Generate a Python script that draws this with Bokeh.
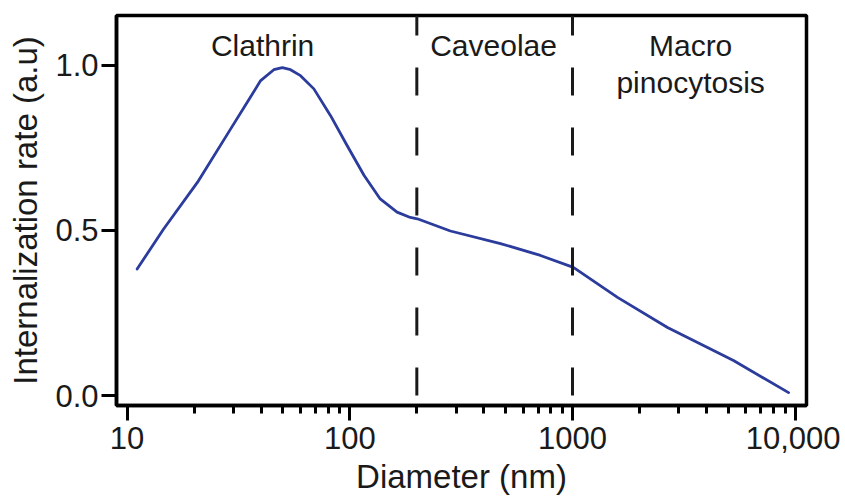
from bokeh.plotting import figure
from bokeh.models import Span, FixedTicker, Label, Range1d
from bokeh.embed import file_html
from bokeh.resources import INLINE

# ---- data ----
diameter_nm = [11.1, 14.6, 20.7, 29.2, 34.6, 39.8, 45.6, 49.8, 54.2, 60.1,
               69.0, 82.0, 97.4, 116, 137, 163, 187, 201, 283, 475,
               718, 1009, 1592, 2669, 5280, 9330]
internalization_rate = [0.383, 0.504, 0.645, 0.807, 0.887, 0.953, 0.986, 0.992, 0.986, 0.968,
                        0.928, 0.847, 0.756, 0.666, 0.595, 0.555, 0.539, 0.535, 0.498, 0.460,
                        0.424, 0.388, 0.297, 0.206, 0.106, 0.009]

x_major_ticks = [10, 100, 1000, 10000]
x_minor_ticks = [20, 30, 40, 50, 60, 70, 80, 90,
                 200, 300, 400, 500, 600, 700, 800, 900,
                 2000, 3000, 4000, 5000, 6000, 7000, 8000, 9000]
x_tick_labels = ["10", "100", "1000", "10,000"]
y_ticks = [0.0, 0.5, 1.0]
y_tick_labels = ["0.0", "0.5", "1.0"]
boundaries_nm = [200, 1000]
region_names = ["Clathrin", "Caveolae", "Macro", "pinocytosis"]

FONT = "Liberation Sans"
TXT = "#1a1a1a"

p = figure(width=840, height=498, x_axis_type="log",
           x_range=Range1d(8.97, 11230), y_range=Range1d(-0.030, 1.150),
           output_backend="svg", toolbar_location=None,
           min_border_left=116, min_border_top=15, min_border_right=34, min_border_bottom=93)

p.background_fill_color = "white"
p.border_fill_color = "white"
p.grid.visible = False
p.outline_line_color = "black"
p.outline_line_width = 3.5
p.outline_line_alpha = 1.0

# x axis
xa = p.xaxis[0]
xa.ticker = FixedTicker(ticks=x_major_ticks, minor_ticks=x_minor_ticks)
xa.major_label_overrides = {t: l for t, l in zip(x_major_ticks, x_tick_labels)}
xa.axis_label = "Diameter (nm)"
xa.axis_line_width = 3.5
xa.axis_line_color = "black"
xa.major_tick_line_width = 3
xa.minor_tick_line_width = 3
xa.major_tick_line_color = "black"
xa.minor_tick_line_color = "black"
xa.major_tick_in = 0
xa.major_tick_out = 15
xa.minor_tick_in = 0
xa.minor_tick_out = 8
xa.major_label_standoff = 6
xa.major_label_text_font = FONT
xa.major_label_text_font_size = "31px"
xa.major_label_text_color = TXT
xa.axis_label_text_font = FONT
xa.axis_label_text_font_size = "33px"
xa.axis_label_text_font_style = "normal"
xa.axis_label_text_color = TXT
xa.axis_label_standoff = 6

# y axis
ya = p.yaxis[0]
ya.ticker = FixedTicker(ticks=y_ticks, minor_ticks=[])
ya.major_label_overrides = {t: l for t, l in zip(y_ticks, y_tick_labels)}
ya.axis_label = "Internalization rate (a.u)"
ya.axis_line_width = 3.5
ya.axis_line_color = "black"
ya.major_tick_line_width = 3
ya.major_tick_line_color = "black"
ya.major_tick_in = 0
ya.major_tick_out = 15
ya.minor_tick_in = 0
ya.minor_tick_out = 0
ya.major_label_standoff = 3
ya.major_label_text_font = FONT
ya.major_label_text_font_size = "31px"
ya.major_label_text_color = TXT
ya.axis_label_text_font = FONT
ya.axis_label_text_font_size = "33px"
ya.axis_label_text_font_style = "normal"
ya.axis_label_text_color = TXT
ya.axis_label_standoff = 8

# dashed region boundaries
for b in boundaries_nm:
    p.add_layout(Span(location=b, dimension="height", line_color="#1a1a1a",
                      line_width=3, line_dash="28 32", line_dash_offset=8))

# curve
p.line(diameter_nm, internalization_rate, line_color="#2b3c9c", line_width=2.8,
       line_join="round", line_cap="round")

# region labels
label_pos = [(40.6, 1.059), (442, 1.059), (3390, 1.059), (3390, 0.947)]
for name, (lx, ly) in zip(region_names, label_pos):
    p.add_layout(Label(x=lx, y=ly, text=name, text_align="center", text_baseline="middle",
                       text_font=FONT, text_font_size="30px", text_color=TXT))

open("out.html", "w").write(file_html(p, INLINE))
